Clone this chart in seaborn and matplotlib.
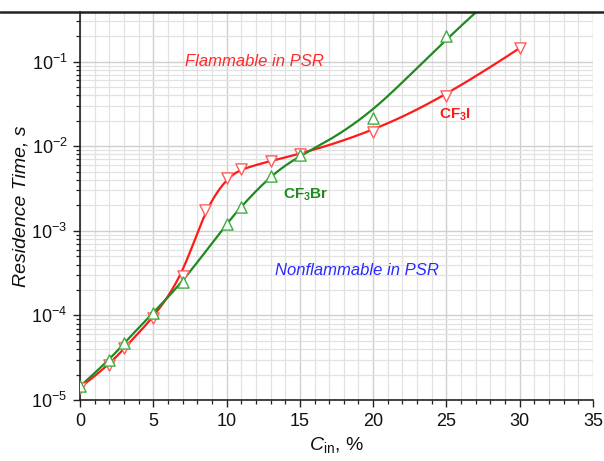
import numpy as np
import pandas as pd
import matplotlib
matplotlib.use("Agg")
import matplotlib.pyplot as plt
import seaborn as sns
from matplotlib.ticker import MultipleLocator, LogLocator, NullFormatter
from matplotlib.lines import Line2D

# ---- data ----
cf3i_conc = [0, 2, 3, 5, 7, 8.5, 10, 11, 13, 15, 20, 25, 30]
cf3i_time = [1.4e-5, 2.6e-5, 4.1e-5, 9.3e-5, 2.9e-4, 1.77e-3, 4.2e-3, 5.4e-3, 6.7e-3, 8.1e-3, 1.47e-2, 3.9e-2, 0.145]
# last CF3Br point lies above the plotted range (only its curve is visible)
cf3br_conc = [0, 2, 3, 5, 7, 10, 11, 13, 15, 20, 25, 30]
cf3br_time = [1.45e-5, 2.97e-5, 4.7e-5, 1.08e-4, 2.47e-4, 1.21e-3, 1.94e-3, 4.5e-3, 7.9e-3, 2.16e-2, 0.2, 1.1]

sns.set_theme(style="white")
plt.rcParams['font.family'] = ['Liberation Sans', 'DejaVu Sans']
plt.rcParams['mathtext.fontset'] = 'custom'
plt.rcParams['mathtext.rm'] = 'Liberation Sans'
plt.rcParams['mathtext.it'] = 'Liberation Sans:italic'
plt.rcParams['mathtext.bf'] = 'Liberation Sans:bold'


def bspline(x, y, num=800):
    """Clamped cubic B-spline using the data points as control points (log10 y)."""
    P = np.column_stack([np.asarray(x, float), np.log10(np.asarray(y, float))])
    n = len(P)
    k = 3
    knots = np.concatenate([np.zeros(k), np.arange(0, n - k + 1), np.full(k, n - k)]).astype(float)
    t = np.linspace(0, n - k, num)
    t[-1] -= 1e-9

    def N(i, p, tt):
        if p == 0:
            return np.where((knots[i] <= tt) & (tt < knots[i + 1]), 1.0, 0.0)
        out = np.zeros_like(tt)
        d1 = knots[i + p] - knots[i]
        d2 = knots[i + p + 1] - knots[i + 1]
        if d1 > 0:
            out += (tt - knots[i]) / d1 * N(i, p - 1, tt)
        if d2 > 0:
            out += (knots[i + p + 1] - tt) / d2 * N(i + 1, p - 1, tt)
        return out

    B = np.column_stack([N(i, k, t) for i in range(n)])
    C = B @ P
    return C[:, 0], 10 ** C[:, 1]


red_line = '#ff1a1a'
green_line = '#1f8a1f'

fig = plt.figure(figsize=(6.04, 4.61), dpi=100)
ax = fig.add_axes([80 / 604, 1 - 400 / 461, (593 - 80) / 604, (400 - 11.7) / 461])

rx, ry = bspline(cf3i_conc, cf3i_time)
gx, gy = bspline(cf3br_conc, cf3br_time)
curve = pd.DataFrame({
    'x': np.concatenate([rx, gx]),
    'y': np.concatenate([ry, gy]),
    's': ['CF3I'] * len(rx) + ['CF3Br'] * len(gx),
})
sns.lineplot(data=curve, x='x', y='y', hue='s', palette={'CF3I': red_line, 'CF3Br': green_line},
             legend=False, ax=ax, linewidth=1.6, sort=False, zorder=3)

pts_i = pd.DataFrame({'x': cf3i_conc, 'y': cf3i_time})
pts_b = pd.DataFrame({'x': cf3br_conc, 'y': cf3br_time})
sns.scatterplot(data=pts_i, x='x', y='y', marker='v', s=65, facecolor='white',
                edgecolor='#ff5c5c', linewidth=1.0, ax=ax, zorder=4)
sns.scatterplot(data=pts_b, x='x', y='y', marker='^', s=65, facecolor='white',
                edgecolor='#3fae3f', linewidth=1.0, ax=ax, zorder=4)

ax.set_yscale('log')
ax.set_xlim(0, 35)
ax.set_ylim(1e-5, 0.39)

ax.xaxis.set_major_locator(MultipleLocator(5))
ax.xaxis.set_minor_locator(MultipleLocator(1))
ax.yaxis.set_major_locator(LogLocator(base=10, numticks=20))
ax.yaxis.set_minor_locator(LogLocator(base=10, subs=np.arange(2, 10), numticks=20))
ax.yaxis.set_minor_formatter(NullFormatter())

ax.grid(True, which='major', color='#cfcfcf', linewidth=1.0)
ax.grid(True, which='minor', color='#e2e2e2', linewidth=0.9)
ax.set_axisbelow(True)

ax.spines['right'].set_visible(False)
ax.spines['top'].set_visible(False)
for side in ['left', 'bottom']:
    ax.spines[side].set_color('#222222')
    ax.spines[side].set_linewidth(1.2)

ax.tick_params(which='major', direction='out', length=5, width=1.0, color='#222222',
               labelsize=13, labelcolor='#111111', left=True, bottom=True, pad=4)
ax.tick_params(which='minor', direction='out', length=3, width=0.9, color='#222222',
               left=True, bottom=True)

ax.set_xlabel(r'$\mathit{C}_{\mathrm{in}}$, %', fontsize=14, color='#111111', labelpad=4)
ax.set_ylabel('Residence Time, s', fontsize=14, fontstyle='italic', color='#111111', labelpad=1)

ax.text(11.9, 0.1, 'Flammable in PSR', color='#ff2a2a', fontsize=12, fontstyle='italic',
        ha='center', va='center')
ax.text(18.9, 3.4e-4, 'Nonflammable in PSR', color='#2a2aff', fontsize=12, fontstyle='italic',
        ha='center', va='center')
ax.text(15.4, 2.7e-3, r'CF$_{\mathbf{3}}$Br', color='#1f8a1f', fontsize=11, fontweight='bold',
        ha='center', va='center')
ax.text(25.6, 2.35e-2, r'CF$_{\mathbf{3}}$I', color='#ff1a1a', fontsize=11, fontweight='bold',
        ha='center', va='center')

# frame line across top of image
fig.add_artist(Line2D([0, 1], [1 - 11.7 / 461] * 2, transform=fig.transFigure,
                      color='#222222', linewidth=1.8))

fig.savefig('out.png', dpi=100)
